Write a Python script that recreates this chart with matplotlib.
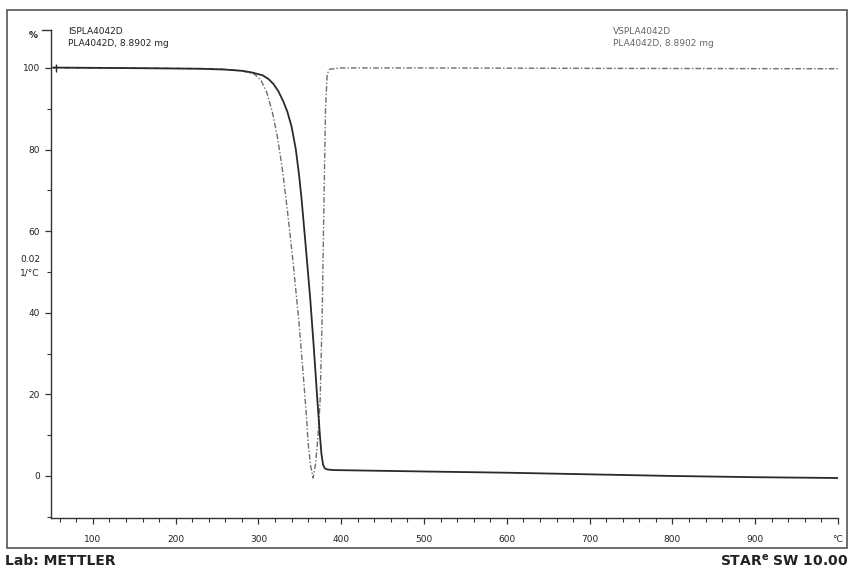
import matplotlib.pyplot as plt
from matplotlib.patches import Rectangle
from matplotlib.ticker import MultipleLocator, FixedLocator

# TGA curve (mass %, solid)
tga_temp = [52, 150, 230, 260, 280, 292, 305, 312, 318, 324, 330, 335, 340, 345, 349, 352,
            357, 362.5, 367, 371, 374, 376, 378, 380, 383, 390, 500, 600, 700, 800, 900, 1000]
tga_mass = [100.1, 99.95, 99.8, 99.6, 99.3, 98.9, 98.2, 97.3, 96.1, 94.3, 91.8, 89.2, 85.6, 80.2,
            73.8, 68.0, 56.5, 43.5, 31, 19, 10.5, 5.5, 2.8, 1.9, 1.6, 1.45, 1.1, 0.8, 0.4, 0.0, -0.3, -0.5]

# DTG curve (dash-dot), drawn on the same scale
dtg_temp = [52, 150, 250, 280, 295, 303, 310, 317, 323, 329, 335, 342, 349, 354, 358,
            360, 363, 366, 369, 372, 374.5, 377, 379.5, 381, 383, 386, 400, 500, 700, 1000]
dtg_val = [100.0, 100.0, 99.8, 99.3, 98.5, 97, 94, 89, 83, 75, 65, 52, 37.5, 25, 14.5,
           8, 2.5, -0.5, 3, 10, 18.6, 40, 72, 90, 98.5, 99.7, 100, 100, 99.9, 99.8]

x_major = [100, 200, 300, 400, 500, 600, 700, 800, 900, 1000]
x_labels = ['100', '200', '300', '400', '500', '600', '700', '800', '900', '°C']
y_major = [0, 20, 40, 60, 80, 100]

W, H = 851, 570
fig = plt.figure(figsize=(W / 100, H / 100), dpi=100)
ax = fig.add_axes([51 / W, (H - 518) / H, (838 - 51) / W, (518 - 30) / H])

ax.plot(dtg_temp, dtg_val, color='#6e6e6e', lw=1.0, linestyle=(0, (4, 1.5, 1, 1.5)))
ax.plot(tga_temp, tga_mass, color='#2a2a2a', lw=1.3)
ax.plot([55], [100], marker='|', color='#2a2a2a', markersize=6)

ax.set_xlim(49.4, 1000)
ax.set_ylim(-10.3, 109.3)

for s in ['top', 'right']:
    ax.spines[s].set_visible(False)
for s in ['left', 'bottom']:
    ax.spines[s].set_color('#333333')
    ax.spines[s].set_linewidth(1.0)

ax.xaxis.set_major_locator(FixedLocator(x_major))
ax.set_xticklabels(x_labels)
ax.xaxis.set_minor_locator(MultipleLocator(20))
ax.yaxis.set_major_locator(FixedLocator(y_major))
ax.yaxis.set_minor_locator(MultipleLocator(10))
ax.tick_params(axis='both', which='major', direction='out', length=4, width=0.9,
               labelsize=6.5, colors='#333333', labelcolor='#222222', pad=4)
ax.tick_params(axis='both', which='minor', direction='out', length=3, width=0.8,
               colors='#333333')
ax.tick_params(axis='x', which='major', pad=8)

# small hook at top of the y axis
ax.plot([-0.012, 0], [1, 1], transform=ax.transAxes, color='#333333', lw=1.0, clip_on=False)

# outer frame
fig.patches.append(Rectangle((7 / W, (H - 548) / H), (847 - 7) / W, (548 - 10) / H,
                             transform=fig.transFigure, fill=False,
                             edgecolor='#555555', lw=1.2))

def ftext(x, y, s, **kw):
    fig.text(x / W, 1 - y / H, s, va='center', **kw)

ftext(33, 35, '%', fontsize=6.5, fontweight='bold', ha='center', color='#222222')
ftext(68, 32, 'ISPLA4042D', fontsize=6.5, color='#222222')
ftext(68, 44, 'PLA4042D, 8.8902 mg', fontsize=6.5, color='#222222')
ftext(613, 32, 'VSPLA4042D', fontsize=6.5, color='#666666')
ftext(613, 44, 'PLA4042D, 8.8902 mg', fontsize=6.5, color='#666666')
ftext(20, 260, '0.02', fontsize=6.5, color='#222222')
ftext(20, 273, '1/°C', fontsize=6.5, color='#222222')
ftext(5, 561, 'Lab: METTLER', fontsize=10, fontweight='bold', color='#222222')
ftext(848, 561, r'STAR$^\mathregular{e}$ SW 10.00', fontsize=10, fontweight='bold',
      ha='right', color='#222222')

fig.savefig('out.png', dpi=100)
